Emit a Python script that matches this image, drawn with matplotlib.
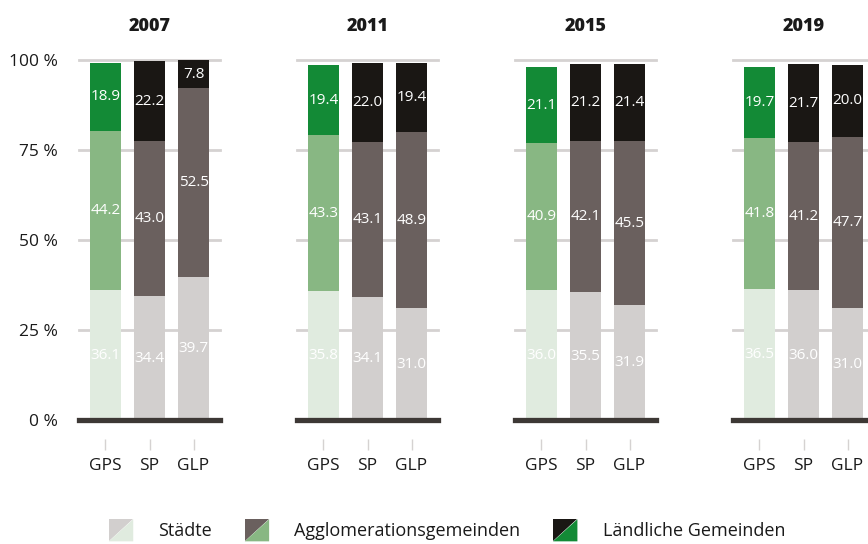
import matplotlib.pyplot as plt
from matplotlib.patches import Polygon
from matplotlib.legend_handler import HandlerBase

plt.rcParams['font.family'] = ['Open Sans', 'DejaVu Sans']

# Daten
years = ['2007', '2011', '2015', '2019']
parties = ['GPS', 'SP', 'GLP']
categories = ['Städte', 'Agglomerationsgemeinden', 'Ländliche Gemeinden']

# pro Jahr: [GPS, SP, GLP]
staedte = {
    '2007': [36.1, 34.4, 39.7],
    '2011': [35.8, 34.1, 31.0],
    '2015': [36.0, 35.5, 31.9],
    '2019': [36.5, 36.0, 31.0],
}
agglo = {
    '2007': [44.2, 43.0, 52.5],
    '2011': [43.3, 43.1, 48.9],
    '2015': [40.9, 42.1, 45.5],
    '2019': [41.8, 41.2, 47.7],
}
laendlich = {
    '2007': [18.9, 22.2, 7.8],
    '2011': [19.4, 22.0, 19.4],
    '2015': [21.1, 21.2, 21.4],
    '2019': [19.7, 21.7, 20.0],
}

# Farben: GPS grün, andere grau
green = ['#e0ebdf', '#88b783', '#138a36']
grey = ['#d2cfce', '#6a605e', '#1a1714']
colors = {'GPS': green, 'SP': grey, 'GLP': grey}

GRID = '#d5d2d1'
BASE = '#3d3835'
TEXT = '#1a1a1a'


class SplitSquare:
    def __init__(self, top, bottom):
        self.top = top
        self.bottom = bottom


class SplitHandler(HandlerBase):
    def create_artists(self, legend, orig_handle, xdescent, ydescent,
                       width, height, fontsize, trans):
        x0, y0 = -xdescent, -ydescent
        x1, y1 = x0 + width, y0 + height
        upper = Polygon([(x0, y0), (x0, y1), (x1, y1)], closed=True,
                        facecolor=orig_handle.top, edgecolor='none', transform=trans)
        lower = Polygon([(x0, y0), (x1, y1), (x1, y0)], closed=True,
                        facecolor=orig_handle.bottom, edgecolor='none', transform=trans)
        return [upper, lower]


W, H = 868, 544
fig = plt.figure(figsize=(W / 100, H / 100), dpi=100)

lefts = [79, 297, 515, 733]
x = list(range(len(parties)))

for i, year in enumerate(years):
    ax = fig.add_axes([lefts[i] / W, 1 - 420 / H, 141 / W, 360 / H])
    bottoms = [0.0, 0.0, 0.0]
    for k, series in enumerate([staedte, agglo, laendlich]):
        vals = series[year]
        cols = [colors[p][k] for p in parties]
        bars = ax.bar(x, vals, width=0.7, bottom=bottoms, color=cols, zorder=2)
        ax.bar_label(bars, labels=[f'{v:.1f}' for v in vals], label_type='center',
                     color='white', fontsize=11)
        bottoms = [b + v for b, v in zip(bottoms, vals)]

    ax.set_xlim(-0.6, 2.6)
    ax.set_ylim(0, 100)
    ax.set_yticks([0, 25, 50, 75, 100])
    for yv in [25, 50, 75, 100]:
        ax.axhline(yv, color=GRID, lw=2, zorder=1, clip_on=False)
    ax.axhline(0, color=BASE, lw=3.8, zorder=3, clip_on=False)

    for s in ['top', 'right', 'left']:
        ax.spines[s].set_visible(False)
    ax.spines['bottom'].set_position(('outward', 14))
    ax.spines['bottom'].set_visible(False)

    ax.set_xticks(x)
    ax.set_xticklabels(parties, fontsize=12.5, color=TEXT)
    ax.tick_params(axis='x', length=8, width=1, color=GRID, pad=5)
    if i == 0:
        ax.set_yticklabels(['0 %', '25 %', '50 %', '75 %', '100 %'], fontsize=12.5, color=TEXT)
        ax.tick_params(axis='y', length=0, pad=15)
    else:
        ax.tick_params(axis='y', length=0, labelleft=False)

    ax.set_title(year, fontsize=13, fontweight='heavy', color=TEXT, pad=21)

handles = [SplitSquare(grey[k], green[k]) for k in range(3)]
fig.legend(handles, categories, handler_map={SplitSquare: SplitHandler()},
           loc='lower center', bbox_to_anchor=(0.515, -0.025), ncol=3, frameon=False,
           fontsize=13, handlelength=1.35, handleheight=1.5, handletextpad=1.4,
           columnspacing=1.8, labelcolor=TEXT)

fig.savefig('out.png', dpi=100)
